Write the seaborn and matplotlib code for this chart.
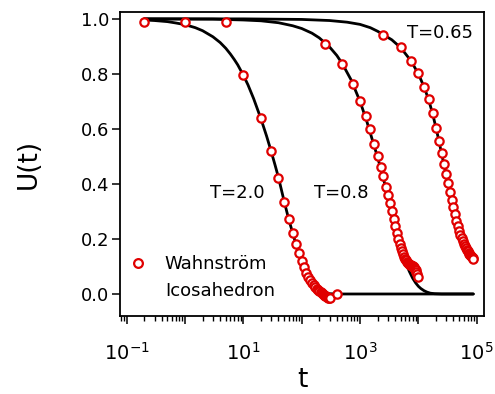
import numpy as np
import pandas as pd
import matplotlib
matplotlib.use("Agg")
import matplotlib.pyplot as plt
import seaborn as sns
from matplotlib.ticker import LogLocator, FixedLocator, NullFormatter, FuncFormatter
from matplotlib.lines import Line2D

# ---------------- data ----------------
# simulation points (red open circles)
t_T20 = [0.2, 1, 10, 20, 30, 40, 50, 60, 70, 80, 90, 100, 110, 120, 130, 140, 150,
         160, 170, 180, 190, 200, 210, 220, 230, 240, 250, 260, 270, 280, 290, 300, 400]
U_T20 = [0.99, 0.99, 0.795, 0.638, 0.519, 0.423, 0.335, 0.271, 0.223, 0.182, 0.148,
         0.121, 0.097, 0.078, 0.062, 0.05, 0.04, 0.032, 0.025, 0.019, 0.014, 0.01,
         0.006, 0.003, 0.0, -0.003, -0.006, -0.009, -0.011, -0.013, -0.015, -0.016, 0.0]

t_T08 = [5, 250, 500, 750, 1000, 1250, 1500, 1750, 2000, 2250, 2500, 2750, 3000, 3250,
         3500, 3750, 4000, 4250, 4500, 4750, 5000, 5250, 5500, 5750, 6000, 6250, 6500,
         6750, 7000, 7250, 7500, 7750, 8000, 8250, 8500, 8750, 9000, 9250, 9500, 9750]
U_T08 = [0.99, 0.908, 0.835, 0.763, 0.702, 0.647, 0.598, 0.547, 0.502, 0.462, 0.429,
         0.39, 0.36, 0.33, 0.30, 0.272, 0.247, 0.223, 0.20, 0.182, 0.166, 0.155, 0.145,
         0.136, 0.128, 0.122, 0.117, 0.113, 0.11, 0.107, 0.105, 0.103, 0.101, 0.099,
         0.096, 0.092, 0.086, 0.079, 0.071, 0.063]

t_T065 = [2500, 5000, 7500, 10000, 12500, 15000, 17500, 20000, 22500, 25000, 27500,
          30000, 32500, 35000, 37500, 40000, 42500, 45000, 47500, 50000, 52500, 55000,
          57500, 60000, 62500, 65000, 67500, 70000, 72500, 75000, 77500, 80000, 82500,
          85000, 87500]
U_T065 = [0.941, 0.896, 0.847, 0.802, 0.753, 0.708, 0.658, 0.605, 0.557, 0.511, 0.471,
          0.435, 0.402, 0.372, 0.341, 0.315, 0.29, 0.266, 0.247, 0.229, 0.214, 0.202,
          0.192, 0.183, 0.175, 0.168, 0.161, 0.155, 0.15, 0.145, 0.141, 0.137, 0.134,
          0.13, 0.127]

# fitted curves (black lines)
tc_T20 = [0.2, 0.3, 0.5, 0.7, 1, 1.5, 2, 3, 4, 5, 6, 7, 8, 10, 12, 15, 20, 25, 30, 35,
          40, 50, 60, 70, 80, 90, 100, 115, 130, 150, 175, 200, 250, 300, 400, 87500]
Uc_T20 = [0.996, 0.994, 0.99, 0.985, 0.979, 0.968, 0.957, 0.935, 0.914, 0.893, 0.872,
          0.852, 0.833, 0.795, 0.76, 0.71, 0.637, 0.574, 0.518, 0.468, 0.423, 0.337,
          0.271, 0.222, 0.18, 0.147, 0.12, 0.088, 0.064, 0.041, 0.023, 0.012, 0.004,
          0.001, 0.0, 0.0]

tc_T08 = [0.2, 3, 10, 20, 40, 70, 100, 150, 200, 300, 400, 500, 700, 1000, 1300, 1600,
          2000, 2500, 3000, 3500, 4000, 4500, 5000, 5500, 6000, 6500, 7000, 7500, 8000,
          9000, 10000, 11000, 12500, 14000, 16000, 19000, 25000, 87500]
Uc_T08 = [1.0, 0.999, 0.996, 0.993, 0.986, 0.975, 0.965, 0.948, 0.931, 0.898, 0.867,
          0.836, 0.779, 0.70, 0.629, 0.565, 0.497, 0.422, 0.355, 0.297, 0.247, 0.205,
          0.168, 0.14, 0.117, 0.098, 0.082, 0.069, 0.057, 0.04, 0.028, 0.02, 0.012,
          0.007, 0.003, 0.001, 0.0, 0.0]

tc_T065 = [0.2, 10, 100, 300, 600, 1000, 1500, 2000, 2500, 3500, 5000, 7500, 10000,
           12500, 15000, 17500, 20000, 22500, 25000, 30000, 35000, 40000, 45000, 50000,
           55000, 60000, 70000, 80000, 87500]
Uc_T065 = [1.0, 1.0, 0.998, 0.994, 0.988, 0.98, 0.968, 0.955, 0.943, 0.924, 0.895,
           0.847, 0.80, 0.753, 0.706, 0.656, 0.605, 0.557, 0.51, 0.434, 0.37, 0.314,
           0.266, 0.228, 0.2, 0.18, 0.152, 0.135, 0.126]

temps = ["T=2.0", "T=0.8", "T=0.65"]
x_tick_decades = [-1, 0, 1, 2, 3, 4, 5]
x_labelled_decades = [-1, 1, 3, 5]
y_ticks = [0.0, 0.2, 0.4, 0.6, 0.8, 1.0]

# ---------------- build tables ----------------
pts = pd.concat([
    pd.DataFrame({"t": t_T20, "U": U_T20, "T": temps[0]}),
    pd.DataFrame({"t": t_T08, "U": U_T08, "T": temps[1]}),
    pd.DataFrame({"t": t_T065, "U": U_T065, "T": temps[2]}),
], ignore_index=True)
fits = pd.concat([
    pd.DataFrame({"t": tc_T20, "U": Uc_T20, "T": temps[0]}),
    pd.DataFrame({"t": tc_T08, "U": Uc_T08, "T": temps[1]}),
    pd.DataFrame({"t": tc_T065, "U": Uc_T065, "T": temps[2]}),
], ignore_index=True)

# ---------------- plot ----------------
sns.set_style("ticks")
plt.rcParams["font.family"] = ["DejaVu Sans"]
plt.rcParams["mathtext.default"] = "regular"
for k in ["text.color", "axes.labelcolor", "xtick.color", "ytick.color",
          "xtick.labelcolor", "ytick.labelcolor"]:
    plt.rcParams[k] = "black"

fig = plt.figure(figsize=(4.95, 3.94), dpi=100)
ax = fig.add_axes([120 / 495, 1 - 316 / 394, 364 / 495, 304 / 394])

sns.lineplot(data=fits, x="t", y="U", units="T", estimator=None, sort=False,
             color="black", linewidth=2.0, ax=ax, legend=False, zorder=2)
sns.scatterplot(data=pts, x="t", y="U", marker="o", s=36, facecolor="white",
                edgecolor="#e00000", linewidth=1.6, ax=ax, legend=False, zorder=3)

ax.set_xscale("log")
ax.set_xlim(10 ** -1.115, 10 ** 5.125)
ax.set_ylim(-0.08, 1.025)

ax.xaxis.set_major_locator(FixedLocator([10.0 ** d for d in x_tick_decades]))
ax.xaxis.set_minor_locator(LogLocator(base=10, subs=np.arange(2, 10), numticks=20))
ax.xaxis.set_minor_formatter(NullFormatter())

def fmt(v, pos):
    d = int(round(np.log10(v)))
    return r"$10^{%d}$" % d if d in x_labelled_decades else ""

ax.xaxis.set_major_formatter(FuncFormatter(fmt))
ax.set_yticks(y_ticks)
ax.set_yticklabels([f"{v:.1f}" for v in y_ticks])

for s in ax.spines.values():
    s.set_linewidth(1.3)
    s.set_color("black")
ax.tick_params(axis="y", which="major", direction="out", length=6, width=1.1,
               labelsize=13, pad=1.5, right=False, colors="black")
ax.tick_params(axis="x", which="major", direction="out", length=6, width=1.1,
               labelsize=14, pad=13, top=False, colors="black")
ax.tick_params(axis="x", which="minor", direction="out", length=3.5, width=1.0,
               top=False, colors="black")

ax.set_xlabel("t", fontsize=19, va="baseline")
ax.xaxis.set_label_coords(0.5, -(387 - 316) / 304)
ax.set_ylabel("U(t)", fontsize=19)
ax.yaxis.set_label_coords(-0.214, 0.5)

def px(xp, yp):
    return ax.transAxes.inverted().transform(fig.transFigure.transform((xp / 495, 1 - yp / 394)))

for label, (xp, yp) in zip(["T=0.65", "T=2.0", "T=0.8"], [(440, 33), (237, 193), (341, 193)]):
    ax_xy = px(xp, yp)
    ax.text(ax_xy[0], ax_xy[1], label, fontsize=13, ha="center", va="center",
            transform=ax.transAxes)

handle = Line2D([], [], linestyle="none", marker="o", markersize=6.3,
                markerfacecolor="white", markeredgecolor="#e00000", markeredgewidth=1.6)
ax.legend([handle], ["Wahnström"], loc="center left",
          bbox_to_anchor=tuple(px(129, 264)), frameon=False, fontsize=13,
          handlelength=1.0, handletextpad=0.95, borderpad=0, borderaxespad=0)
ic = px(165, 291)
ax.text(ic[0], ic[1], "Icosahedron", fontsize=13, ha="left", va="center",
        transform=ax.transAxes)

fig.savefig("out.png", dpi=100)
